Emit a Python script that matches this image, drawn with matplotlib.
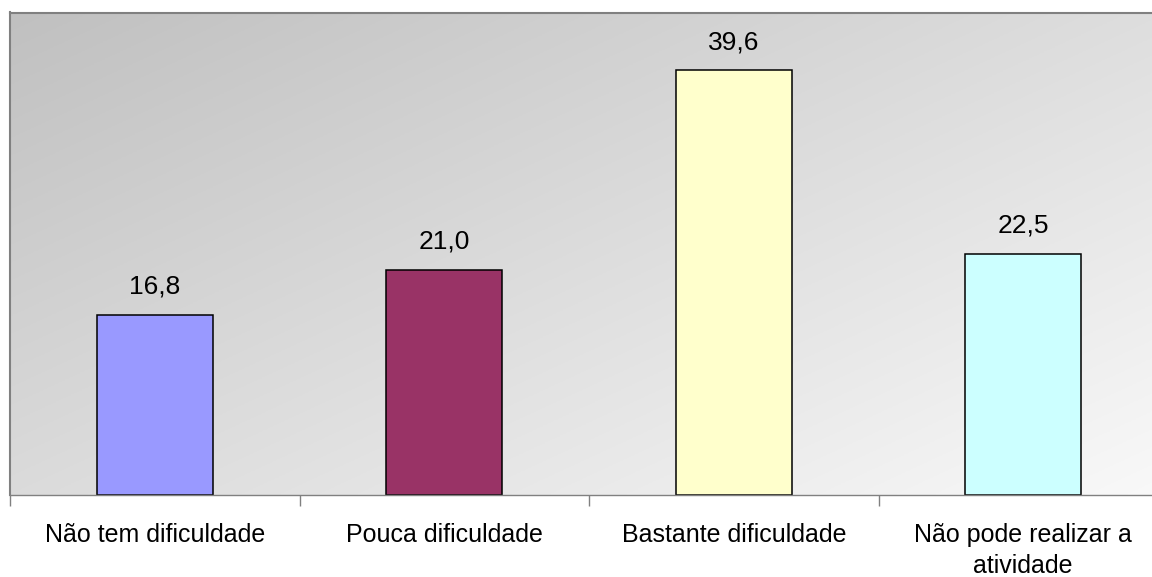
import numpy as np
import matplotlib
matplotlib.use("Agg")
import matplotlib.pyplot as plt
from matplotlib.ticker import FixedLocator

categories = ["Não tem dificuldade", "Pouca dificuldade", "Bastante dificuldade",
              "Não pode realizar a\natividade"]
values = [16.8, 21.0, 39.6, 22.5]
value_labels = ["16,8", "21,0", "39,6", "22,5"]
bar_colors = ["#9999ff", "#993366", "#ffffcc", "#ccffff"]

plt.rcParams["font.family"] = ["Liberation Sans", "DejaVu Sans"]

W, H = 1152, 577
fig = plt.figure(figsize=(W / 100, H / 100), dpi=100)
left, right, top, bottom = 10, 1168, 12.5, 495
ax = fig.add_axes([left / W, (H - bottom) / H, (right - left) / W, (bottom - top) / H])

# diagonal grey gradient background
nx, ny = 400, 200
u = np.linspace(0, 1, nx)[None, :]
v = np.linspace(0, 1, ny)[:, None]  # 0 at top
g = (192 + 30 * u + 27 * v) / 255.0
img = np.dstack([g, g, g])
ax.imshow(img, extent=[0, 1, 0, 1], transform=ax.transAxes, aspect="auto",
          zorder=0, origin="upper")

x = np.arange(len(categories))
ax.bar(x, values, width=0.4, color=bar_colors, edgecolor="black",
       linewidth=1.1, zorder=2)

for xi, val, lab in zip(x, values, value_labels):
    ax.annotate(lab, (xi, val), xytext=(0, 16), textcoords="offset pixels",
                ha="center", va="bottom", fontsize=19, color="black", zorder=3)

# category names below the axis; first baseline 47 px under it,
# further lines 31 px apart (va="baseline" anchors the last line)
line_step = 31
for xi, name in zip(x, categories):
    n_lines = name.count("\n") + 1
    ax.annotate(name, (xi, 0), xycoords=("data", "axes fraction"),
                xytext=(0, -47 - (n_lines - 1) * line_step),
                textcoords="offset pixels",
                ha="center", va="baseline", multialignment="center",
                fontsize=18, linespacing=1.35, color="black",
                annotation_clip=False)

ax.set_xlim(-0.5, len(categories) - 0.5)
ax.set_ylim(0, 45)
ax.set_yticks([])

ax.set_xticks(x)
ax.set_xticklabels([])
ax.tick_params(axis="x", which="major", length=0)
ax.xaxis.set_minor_locator(FixedLocator(np.arange(-0.5, len(categories), 1.0)))
ax.tick_params(axis="x", which="minor", length=8, width=1.0, color="#808080",
               direction="out")

for s in ["left", "top", "right"]:
    ax.spines[s].set_color("#808080")
    ax.spines[s].set_linewidth(1.5)
ax.spines["bottom"].set_color("#808080")
ax.spines["bottom"].set_linewidth(1.0)

fig.savefig("out.png", dpi=100)
